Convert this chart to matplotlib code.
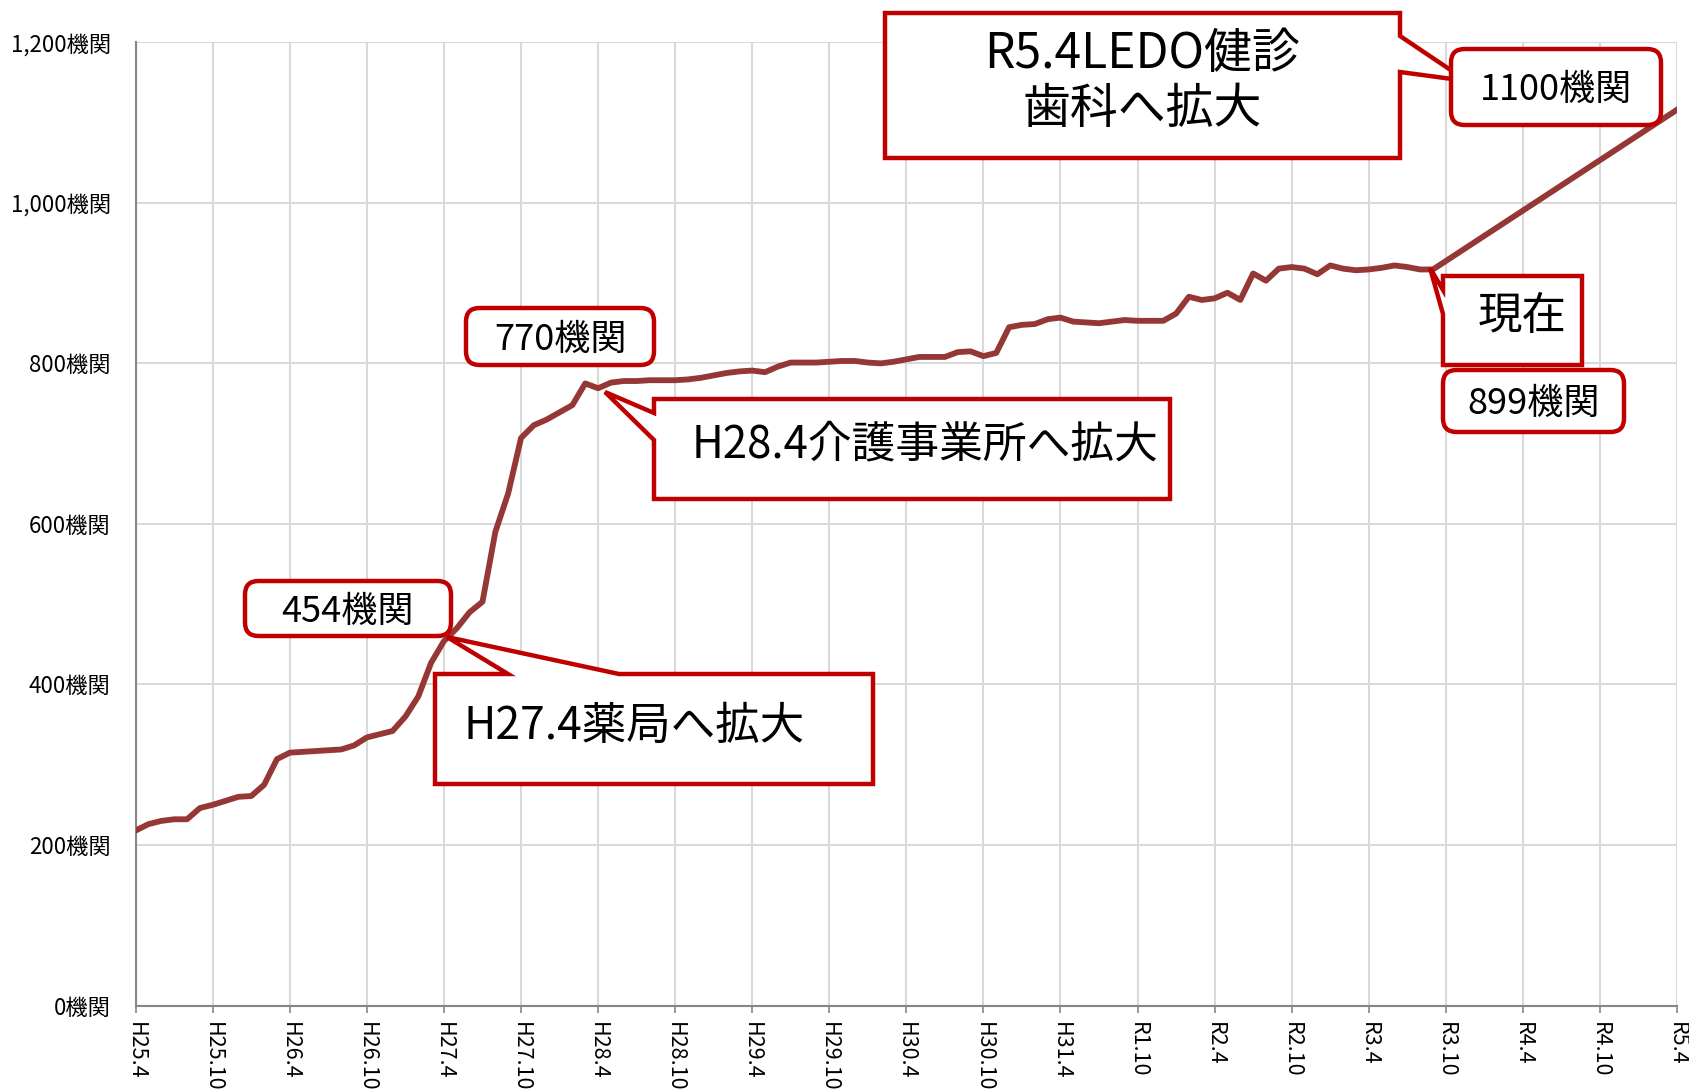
"""
Number of participating institutions over time, with callouts for each expansion.
"""
import matplotlib
matplotlib.use('Agg')
import matplotlib.pyplot as plt
from matplotlib.patches import Polygon, FancyBboxPatch

plt.rcParams['font.family'] = ['Noto Sans CJK JP', 'DejaVu Sans']

W, H = 1689, 1091

# monthly counts from H25.4 (month 0) to R3.9 (month 101)
counts = [218, 226, 230, 232, 232, 246, 250, 255, 260, 261,
          275, 307, 315, 316, 317, 318, 319, 324, 334, 338,
          342, 360, 385, 427, 454, 470, 490, 503, 590, 638,
          707, 723, 730, 739, 748, 775, 769, 776, 778, 778,
          779, 779, 779, 780, 782, 785, 788, 790, 791, 789,
          796, 801, 801, 801, 802, 803, 803, 801, 800, 802,
          805, 808, 808, 808, 814, 815, 809, 813, 845, 848,
          849, 855, 857, 852, 851, 850, 852, 854, 853, 853,
          853, 862, 883, 879, 881, 888, 879, 912, 903, 918,
          920, 918, 911, 922, 918, 916, 917, 919, 922, 920,
          917, 917]
# target at R5.4 (month 120)
target_month = 120
target_value = 1116

tick_months = list(range(0, 121, 6))
tick_labels = ['H25.4', 'H25.10', 'H26.4', 'H26.10', 'H27.4', 'H27.10',
               'H28.4', 'H28.10', 'H29.4', 'H29.10', 'H30.4', 'H30.10',
               'H31.4', 'R1.10', 'R2.4', 'R2.10', 'R3.4', 'R3.10',
               'R4.4', 'R4.10', 'R5.4']
y_ticks = [0, 200, 400, 600, 800, 1000, 1200]

line_color = '#953735'
red = '#C00000'

fig = plt.figure(figsize=(W / 100, H / 100), dpi=100)
ax = fig.add_axes([135.7 / W, 1 - 1005.5 / H, (1677 - 135.7) / W, (1005.5 - 42.3) / H])

months = list(range(len(counts))) + [target_month]
values = counts + [target_value]
ax.plot(months, values, color=line_color, lw=4.2, solid_joinstyle='round', zorder=3)

ax.set_xlim(0, 120)
ax.set_ylim(0, 1200)
ax.set_xticks(tick_months)
ax.set_xticklabels(tick_labels, rotation=-90, fontsize=15.5)
ax.set_yticks(y_ticks)
ax.set_yticklabels([f'{v:,}機関' for v in y_ticks], fontsize=16)
ax.tick_params(axis='x', length=5, width=1.2, color='#868686', pad=7)
ax.tick_params(axis='y', length=0, pad=18)
ax.grid(color='#d9d9d9', lw=1.5, zorder=0)
ax.set_axisbelow(True)
for s in ['top', 'right']:
    ax.spines[s].set_visible(False)
for s in ['left', 'bottom']:
    ax.spines[s].set_color('#868686')
    ax.spines[s].set_linewidth(1.5)


def P(x, y):
    return (x / W, 1 - y / H)


def callout(pts, text, cx, cy, size):
    poly = Polygon([P(x, y) for x, y in pts], closed=True, transform=fig.transFigure,
                   facecolor='white', edgecolor=red, lw=3.2, joinstyle='miter', zorder=5)
    fig.add_artist(poly)
    fig.text(*P(cx, cy), text, fontsize=size, ha='center', va='center',
             linespacing=1.15, zorder=6)


def label_box(x0, y0, x1, y1, text, size=26):
    box = FancyBboxPatch(P(x0, y1), (x1 - x0) / W, (y1 - y0) / H,
                         boxstyle='round,pad=0,rounding_size=0.008',
                         transform=fig.transFigure, facecolor='white',
                         edgecolor=red, lw=3.2, zorder=5, mutation_aspect=W / H)
    fig.add_artist(box)
    fig.text(*P((x0 + x1) / 2, (y0 + y1) / 2 + 3), text, fontsize=size,
             ha='center', va='center', zorder=6)


callout([(435, 674), (508, 674), (447, 637), (619, 674), (873, 674), (873, 784), (435, 784)],
        'H27.4薬局へ拡大', 634, 726, 32)
callout([(654, 399), (1170, 399), (1170, 499), (654, 499), (654, 440), (605, 392), (654, 413)],
        'H28.4介護事業所へ拡大', 925, 444, 31.5)
callout([(885, 13), (1400, 13), (1400, 36), (1467, 81), (1400, 72), (1400, 158), (885, 158)],
        'R5.4LEDO健診\n歯科へ拡大', 1142, 82, 34.5)
callout([(1443, 276), (1582, 276), (1582, 365), (1443, 365), (1443, 314), (1430, 268), (1443, 290)],
        '現在', 1522, 316, 32)

label_box(245, 581, 451, 636, '454機関')
label_box(466, 308, 654, 365, '770機関')
label_box(1451, 49, 1661, 125, '1100機関')
label_box(1443, 370, 1624, 432, '899機関')

fig.savefig('out.png', dpi=100)
